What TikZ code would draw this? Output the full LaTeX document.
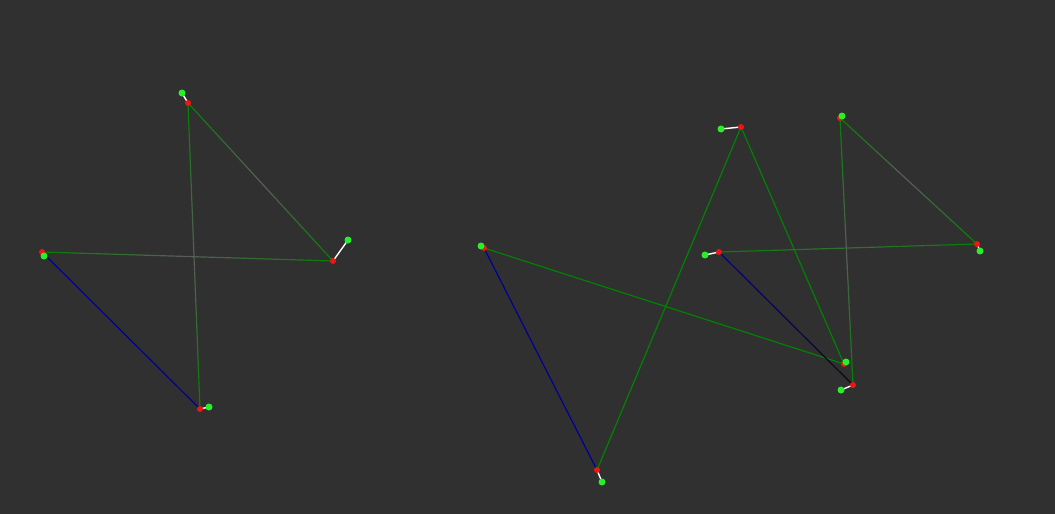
\documentclass[tikz,border=0pt]{standalone}
\usetikzlibrary{calc}
\definecolor{bg}{RGB}{48,48,48}
\definecolor{lgreen}{RGB}{0,130,0}
\definecolor{lgray}{RGB}{92,92,92}
\definecolor{lblue}{RGB}{0,0,150}
\definecolor{lblack}{RGB}{10,10,10}
\definecolor{pgreen}{RGB}{40,240,40}
\definecolor{pred}{RGB}{240,20,20}
\tikzset{
  gdot/.style={circle,fill=pgreen,inner sep=0pt,minimum size=7pt},
  rdot/.style={circle,fill=pred,inner sep=0pt,minimum size=6pt},
  link/.style={white,line width=1.4pt},
  edge/.style={line width=1.2pt},
}
\newcommand\gradmid[4]{%
  \foreach \i in {0,...,19}{%
    \pgfmathsetmacro\ta{\i/20}%
    \pgfmathsetmacro\tb{(\i+1)/20}%
    \pgfmathsetmacro\pp{abs(\i+0.5-10)*10}%
    \draw[edge,color=#3!\pp!#4] ($(#1)!\ta!(#2)$) -- ($(#1)!\tb!(#2)$);}}
\newcommand\gradlin[4]{%
  \foreach \i in {0,...,19}{%
    \pgfmathsetmacro\ta{\i/20}%
    \pgfmathsetmacro\tb{(\i+1)/20}%
    \pgfmathsetmacro\pp{100-(\i+0.5)*5}%
    \draw[edge,color=#3!\pp!#4] ($(#1)!\ta!(#2)$) -- ($(#1)!\tb!(#2)$);}}
\begin{document}
\begin{tikzpicture}[x=1pt,y=-1pt]
\fill[bg] (0,0) rectangle (1055,514);
\useasboundingbox (0,0) rectangle (1055,514);
% left figure coordinates
\coordinate (Ar) at (188,103); \coordinate (Ag) at (182,93);
\coordinate (Br) at (333,261); \coordinate (Bg) at (348,240);
\coordinate (Cr) at (42,252);  \coordinate (Cg) at (44,256);
\coordinate (Dr) at (200,409); \coordinate (Dg) at (209,407);
% right figure coordinates
\coordinate (Er) at (484,248); \coordinate (Eg) at (481,246);
\coordinate (Fr) at (741,127); \coordinate (Fg) at (721,129);
\coordinate (Gr) at (840,118); \coordinate (Gg) at (842,116);
\coordinate (Hr) at (719,252); \coordinate (Hg) at (705,255);
\coordinate (Ir) at (977,244); \coordinate (Ig) at (980,251);
\coordinate (Jr) at (844,364); \coordinate (Jg) at (846,362);
\coordinate (Kr) at (853,385); \coordinate (Kg) at (841,390);
\coordinate (Lr) at (597,470); \coordinate (Lg) at (602,482);
% edges left
\gradmid{Ar}{Br}{lgreen}{lgray}
\gradmid{Ar}{Dr}{lgreen}{lgray}
\gradmid{Cr}{Br}{lgreen}{lgray}
\draw[edge,lblue] (Cr) -- (Dr);
% edges right
\draw[edge,lblue] (Er) -- (Lr);
\draw[edge,lgreen] (Er) -- (Jr);
\draw[edge,lgreen] (Fr) -- (Lr);
\draw[edge,lgreen] (Fr) -- (Jr);
\gradmid{Gr}{Kr}{lgreen}{lgray}
\gradmid{Gr}{Ir}{lgreen}{lgray}
\gradmid{Hr}{Ir}{lgreen}{lgray!60!lgreen}
\gradlin{Hr}{Kr}{lblue}{lblack}
% white links
\foreach \n in {A,B,C,D,E,F,G,H,I,J,K,L}{\draw[link] (\n r) -- (\n g);}
% markers
\foreach \n in {A,B,C,D,E,F,G,H,I,J,K,L}{\node[rdot] (\n R) at (\n r) {};}
\foreach \n in {A,B,C,D,E,F,G,H,I,J,K,L}{\node[gdot] (\n G) at (\n g) {};}
\end{tikzpicture}
\end{document}
